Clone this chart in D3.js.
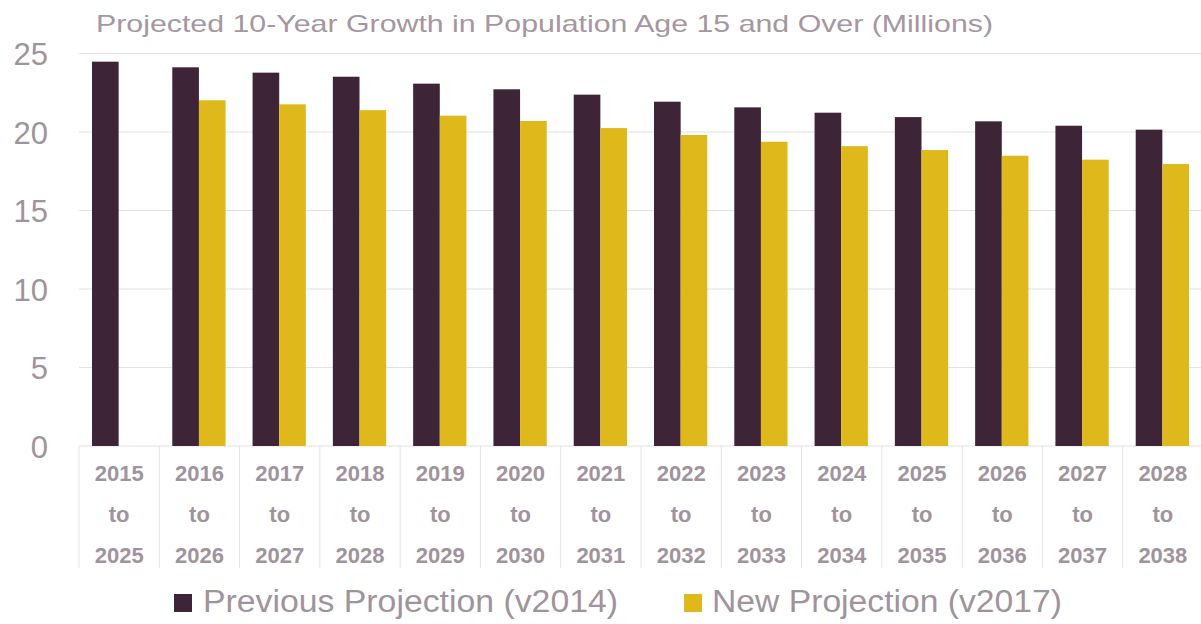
<!DOCTYPE html>
<html>
<head>
<meta charset="utf-8">
<script src="https://cdn.jsdelivr.net/npm/d3@7"></script>
<style>
  html, body { margin: 0; padding: 0; background: #fff; }
  svg { display: block; font-family: "Liberation Sans", Arial, sans-serif; }
</style>
</head>
<body>
<svg id="chart" width="1201" height="624"></svg>
<script>
// Ten-year growth windows
const periods = [
  ["2015", "2025"], ["2016", "2026"], ["2017", "2027"], ["2018", "2028"],
  ["2019", "2029"], ["2020", "2030"], ["2021", "2031"], ["2022", "2032"],
  ["2023", "2033"], ["2024", "2034"], ["2025", "2035"], ["2026", "2036"],
  ["2027", "2037"], ["2028", "2038"]
];
// Growth in population age 15+ (millions)
const previousProjection = [24.48, 24.12, 23.78, 23.52, 23.08, 22.72, 22.38, 21.93, 21.57, 21.23, 20.95, 20.68, 20.40, 20.15];
const newProjection      = [null, 22.02, 21.76, 21.39, 21.04, 20.70, 20.25, 19.81, 19.38, 19.10, 18.85, 18.49, 18.24, 17.96];
const seriesNames = ["Previous Projection (v2014)", "New Projection (v2017)"];
const yTicks = [0, 5, 10, 15, 20, 25];
const titleText = "Projected 10-Year Growth in Population Age 15 and Over (Millions)";

const colors = ["#3d2537", "#dfb91b"];
const textColor = "#a0939c";

const svg = d3.select("#chart");
const plot = { left: 79, right: 1203, top: 53.5, bottom: 446 };

const x0 = d3.scaleBand()
  .domain(d3.range(periods.length))
  .range([plot.left, plot.right])
  .padding(0);
const x1 = d3.scaleBand()
  .domain([0, 1])
  .range([13, x0.bandwidth() - 14])
  .padding(0);
const y = d3.scaleLinear().domain([0, 25]).range([plot.bottom, plot.top]);

// Title (wide setting)
svg.append("text")
  .attr("x", 96).attr("y", 32)
  .attr("fill", "#a6969f")
  .attr("font-size", 24)
  .attr("textLength", 897)
  .attr("lengthAdjust", "spacingAndGlyphs")
  .text(titleText);

// Horizontal gridlines
svg.append("g")
  .selectAll("line")
  .data(yTicks.filter(d => d > 0))
  .join("line")
  .attr("x1", plot.left).attr("x2", plot.right)
  .attr("y1", d => y(d)).attr("y2", d => y(d))
  .attr("stroke", "#e4e1e3").attr("stroke-width", 1.2);

// Y axis labels
const yAxis = d3.axisLeft(y).tickValues(yTicks).tickSize(0).tickPadding(0);
const yg = svg.append("g").attr("transform", "translate(48,0)").call(yAxis);
yg.select(".domain").remove();
yg.selectAll("text")
  .attr("fill", textColor)
  .attr("font-size", 31)
  .attr("font-family", "Liberation Sans, Arial, sans-serif")
  .attr("dy", "0.36em");

// Category cell separators
svg.append("g")
  .selectAll("line")
  .data(d3.range(periods.length + 1))
  .join("line")
  .attr("x1", i => i < periods.length ? x0(i) : plot.right)
  .attr("x2", i => i < periods.length ? x0(i) : plot.right)
  .attr("y1", plot.bottom).attr("y2", 568)
  .attr("stroke", "#e6e2e5").attr("stroke-width", 1);

// Baseline
svg.append("line")
  .attr("x1", plot.left).attr("x2", plot.right)
  .attr("y1", plot.bottom).attr("y2", plot.bottom)
  .attr("stroke", "#e4e1e3").attr("stroke-width", 1.2);

// Bars
const series = [previousProjection, newProjection];
const groups = svg.append("g")
  .selectAll("g")
  .data(d3.range(periods.length))
  .join("g")
  .attr("transform", i => `translate(${x0(i)},0)`);

groups.selectAll("rect")
  .data(i => series.map((s, k) => ({ k, v: s[i] })).filter(d => d.v != null))
  .join("rect")
  .attr("x", d => x1(d.k))
  .attr("width", x1.bandwidth())
  .attr("y", d => y(d.v))
  .attr("height", d => y(0) - y(d.v))
  .attr("fill", d => colors[d.k]);

// Category labels (three lines)
const labels = svg.append("g")
  .selectAll("text")
  .data(periods)
  .join("text")
  .attr("text-anchor", "middle")
  .attr("fill", textColor)
  .attr("font-size", 22)
  .attr("font-weight", "bold")
  .attr("transform", (d, i) => `translate(${x0(i) + x0.bandwidth() / 2},0)`);
labels.append("tspan").attr("x", 0).attr("y", 481).text(d => d[0]);
labels.append("tspan").attr("x", 0).attr("y", 522).text("to");
labels.append("tspan").attr("x", 0).attr("y", 563).text(d => d[1]);

// Legend
const legendItems = [
  { name: seriesNames[0], color: colors[0], x: 174, tx: 203, w: 415 },
  { name: seriesNames[1], color: colors[1], x: 684, tx: 712, w: 350 }
];
const lg = svg.append("g")
  .selectAll("g")
  .data(legendItems)
  .join("g");
lg.append("rect")
  .attr("x", d => d.x).attr("y", 594)
  .attr("width", 18).attr("height", 18)
  .attr("fill", d => d.color);
lg.append("text")
  .attr("x", d => d.tx).attr("y", 612)
  .attr("fill", textColor)
  .attr("font-size", 31)
  .attr("textLength", d => d.w)
  .attr("lengthAdjust", "spacingAndGlyphs")
  .text(d => d.name);
</script>
</body>
</html>
